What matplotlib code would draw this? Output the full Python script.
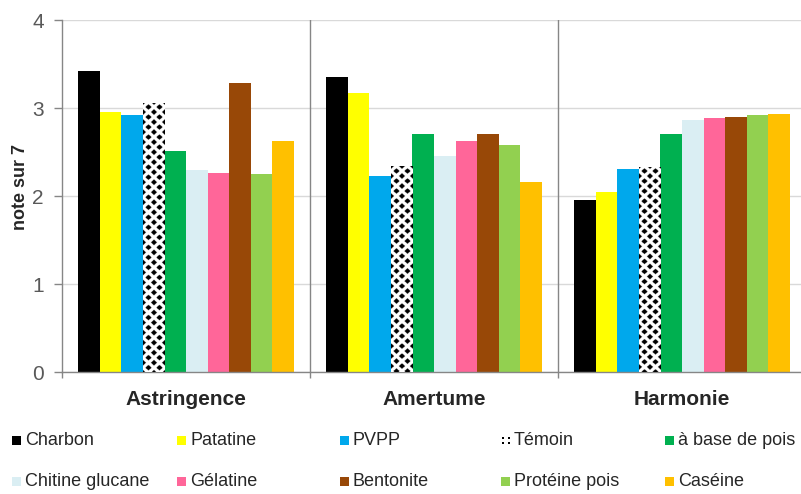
import numpy as np
import matplotlib
matplotlib.use("Agg")
import matplotlib.pyplot as plt
from matplotlib.patches import Rectangle

plt.rcParams['font.family'] = ['Liberation Sans', 'DejaVu Sans']

# ---- data -------------------------------------------------------------
categories = ["Astringence", "Amertume", "Harmonie"]
series_names = ["Charbon", "Patatine", "PVPP", "Témoin", "à base de pois",
                "Chitine glucane", "Gélatine", "Bentonite", "Protéine pois", "Caséine"]

charbon = [3.42, 3.35, 1.95]
patatine = [2.96, 3.17, 2.05]
pvpp = [2.92, 2.23, 2.31]
temoin = [3.06, 2.34, 2.33]
base_pois = [2.51, 2.71, 2.71]
chitine_glucane = [2.30, 2.45, 2.86]
gelatine = [2.26, 2.63, 2.89]
bentonite = [3.28, 2.70, 2.90]
proteine_pois = [2.25, 2.58, 2.92]
caseine = [2.63, 2.16, 2.93]

series_values = [charbon, patatine, pvpp, temoin, base_pois,
                 chitine_glucane, gelatine, bentonite, proteine_pois, caseine]
series_colors = ["#000000", "#FFFF00", "#00A8EC", None, "#00B050",
                 "#DAEEF3", "#FF6699", "#984807", "#92D050", "#FFC000"]
yticks = [0, 1, 2, 3, 4]
ylabel = "note sur 7"

# ---- figure -------------------------------------------------------------
W, H = 801, 494
fig = plt.figure(figsize=(W / 100, H / 100), dpi=100)
ax_left, ax_right, ax_top, ax_bottom = 62, 801, 20, 372
ax = fig.add_axes([ax_left / W, 1 - ax_bottom / H,
                   (ax_right - ax_left) / W, (ax_bottom - ax_top) / H])

group_px = 248.0
bar_w = 21.6 / group_px
n = len(series_names)
x = np.arange(len(categories))
grid_col = "#D9D9D9"
axis_col = "#868686"


def diamond_fill(ax, bar, r=0.56):
    """Fill a bar with a black-on-white diamond pattern."""
    x0, y0 = bar.get_x(), bar.get_y()
    w, h = bar.get_width(), bar.get_height()
    wpx = w * group_px
    hpx = h * (ax_bottom - ax_top) / 4.0
    nx, ny = int(wpx * 4), int(hpx * 4)
    xs = (np.arange(nx) + 0.5) / nx * wpx
    ys = (np.arange(ny) + 0.5) / ny * hpx
    X, Y = np.meshgrid(xs, ys)
    P, Q = wpx / 2.0, 10.0
    dA = (np.abs(((X + P / 2) % P) - P / 2) / (P / 2)
          + np.abs(((Y + Q / 2) % Q) - Q / 2) / (Q / 2))
    dB = (np.abs((X % P) - P / 2) / (P / 2)
          + np.abs((Y % Q) - Q / 2) / (Q / 2))
    img = np.where(np.minimum(dA, dB) < r, 0.0, 1.0)
    im = ax.imshow(img, extent=[x0, x0 + w, y0, y0 + h], origin="upper",
                   cmap="gray", vmin=0, vmax=1, aspect="auto",
                   interpolation="antialiased", zorder=3)
    im.set_clip_path(bar)


for i, (name, vals, col) in enumerate(zip(series_names, series_values, series_colors)):
    pos = x + (i - (n - 1) / 2) * bar_w
    if col is None:
        bars = ax.bar(pos, vals, width=bar_w, color="white", linewidth=0, zorder=2)
        for b in bars:
            diamond_fill(ax, b)
    else:
        ax.bar(pos, vals, width=bar_w, color=col, linewidth=0, zorder=2)

ax.set_xlim(-0.5, -0.5 + (ax_right - ax_left) / group_px)
ax.set_ylim(0, 4)

# grid & spines
ax.set_yticks(yticks)
ax.yaxis.grid(True, color=grid_col, linewidth=1)
ax.set_axisbelow(True)
for s in ["top", "right"]:
    ax.spines[s].set_visible(False)
for s in ["left", "bottom"]:
    ax.spines[s].set_color(axis_col)
    ax.spines[s].set_linewidth(1)

for b in [0.5, 1.5]:
    ax.axvline(b, color=axis_col, linewidth=1, zorder=1)

ax.tick_params(axis="y", direction="out", length=6, width=1, color=axis_col,
               labelsize=15, labelcolor="#595959", pad=7)
ax.set_xticks(x)
ax.set_xticklabels(categories, fontsize=15, fontweight="bold", color="#262626")
ax.tick_params(axis="x", which="major", length=0, pad=13)
ax.set_xticks([-0.5, 0.5, 1.5], minor=True)
ax.tick_params(axis="x", which="minor", direction="out", length=4.5, width=1,
               color=axis_col)

# axis title, centred at x = 20 px in the figure
fig.text(20.5 / W, 1 - 187 / H, ylabel, rotation=90, fontsize=13,
         fontweight="bold", color="#262626", ha="center", va="center")

# ---- legend (two rows of five) ------------------------------------------
col_x = [12, 177, 340, 501, 665]
row_y = [440, 481]
msize = 9
for i, (name, col) in enumerate(zip(series_names, series_colors)):
    r, c = divmod(i, 5)
    mx, my = col_x[c], row_y[r]
    if col is None:
        for dx, dy in [(1, 0), (1, 5), (7, 0), (7, 5)]:
            fig.add_artist(Rectangle(((mx + dx) / W, 1 - (my - 3.5 + dy + 2) / H),
                                     2 / W, 2 / H, transform=fig.transFigure,
                                     facecolor="black", edgecolor="none"))
    else:
        fig.add_artist(Rectangle((mx / W, 1 - (my + msize / 2) / H),
                                 msize / W, msize / H, transform=fig.transFigure,
                                 facecolor=col, edgecolor="none"))
    fig.text((mx + msize + 4) / W, 1 - my / H, name, fontsize=13,
             color="#262626", va="center", ha="left")

fig.savefig("out.png", dpi=100)
